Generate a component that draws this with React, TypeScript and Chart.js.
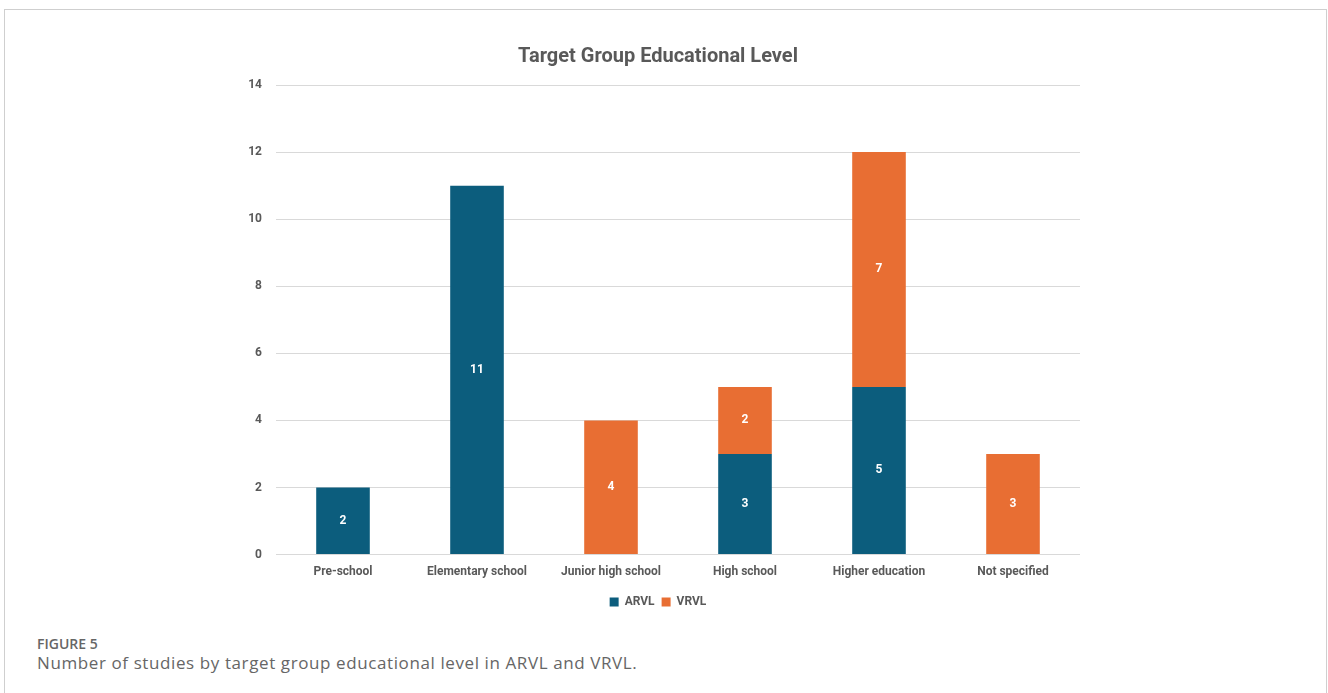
import React, { useEffect, useRef } from "react";
import { Chart, registerables } from "chart.js";

Chart.register(...registerables);

const categories = ["Pre-school", "Elementary school", "Junior high school", "High school", "Higher education", "Not specified"];
const arvlValues = [2, 11, 0, 3, 5, 0];
const vrvlValues = [0, 0, 4, 2, 7, 3];
const yTicks = [0, 2, 4, 6, 8, 10, 12, 14];

const ARVL_COLOR = "#0C5D7D";
const VRVL_COLOR = "#E86E33";
const TEXT_COLOR = "#595959";
const FONT = "Roboto, 'Liberation Sans', sans-serif";

const valueLabels = {
  id: "valueLabels",
  afterDatasetsDraw(chart: any) {
    const ctx = chart.ctx;
    ctx.save();
    ctx.fillStyle = "#ffffff";
    ctx.font = `bold 12px ${FONT}`;
    ctx.textAlign = "center";
    ctx.textBaseline = "middle";
    chart.data.datasets.forEach((ds: any, di: number) => {
      const meta = chart.getDatasetMeta(di);
      meta.data.forEach((bar: any, i: number) => {
        const v = ds.data[i];
        if (!v) return;
        const p = bar.getProps(["x", "y", "base"], true);
        ctx.fillText(String(v), p.x, (p.y + p.base) / 2);
      });
    });
    ctx.restore();
  },
};

export default function App() {
  const ref = useRef<HTMLCanvasElement>(null);
  useEffect(() => {
    if (!ref.current) return;
    const chart = new Chart(ref.current, {
      type: "bar",
      data: {
        labels: categories,
        datasets: [
          { label: "ARVL", data: arvlValues, backgroundColor: ARVL_COLOR },
          { label: "VRVL", data: vrvlValues, backgroundColor: VRVL_COLOR },
        ],
      },
      options: {
        animation: false,
        responsive: false,
        maintainAspectRatio: false,
        layout: { padding: { left: 236, right: 248, top: 35, bottom: 12 } },
        datasets: { bar: { categoryPercentage: 1, barPercentage: 0.4 } } as any,
        scales: {
          x: {
            stacked: true,
            grid: { display: false, drawTicks: false },
            border: { display: false },
            ticks: { color: TEXT_COLOR, font: { family: FONT, size: 12, weight: "bold" }, padding: 10, maxRotation: 0 },
          },
          y: {
            stacked: true,
            min: 0,
            max: 14,
            afterBuildTicks: (s: any) => { s.ticks = yTicks.map((v) => ({ value: v })); },
            afterFit: (s: any) => { s.width = 40; },
            grid: { color: "#D9D9D9", lineWidth: 1, drawTicks: false },
            border: { display: false },
            ticks: { color: TEXT_COLOR, font: { family: FONT, size: 12, weight: "bold" }, padding: 14 },
          },
        },
        plugins: {
          title: {
            display: true,
            text: "Target Group Educational Level",
            color: TEXT_COLOR,
            font: { family: FONT, size: 20, weight: "bold" },
            padding: { top: 10, bottom: 16 },
          },
          legend: {
            position: "bottom",
            labels: { color: TEXT_COLOR, font: { family: FONT, size: 12, weight: "bold" }, boxWidth: 9, boxHeight: 9, padding: 7 },
          },
          tooltip: { enabled: false },
        },
      },
      plugins: [valueLabels],
    });
    return () => chart.destroy();
  }, []);

  return (
    <div style={{ position: "fixed", left: 0, top: 0, width: 1328, height: 693, background: "#fff", overflow: "hidden" }}>
      <div style={{ position: "absolute", left: 4, top: 9, width: 1321, height: 700, border: "1px solid #CFCFCF", borderBottom: "none" }} />
      <canvas ref={ref} width={1328} height={630} style={{ position: "absolute", left: 0, top: 0, width: 1328, height: 630 }} />
      <div style={{ position: "absolute", left: 37, top: 634, fontFamily: "'Open Sans', sans-serif", fontSize: 14, fontWeight: 600, color: "#666666", whiteSpace: "nowrap" }}>FIGURE 5</div>
      <div style={{ position: "absolute", left: 37, top: 651, fontFamily: "'Open Sans', sans-serif", fontSize: 17, letterSpacing: 0.6, color: "#666666", whiteSpace: "nowrap" }}>Number of studies by target group educational level in ARVL and VRVL.</div>
    </div>
  );
}
